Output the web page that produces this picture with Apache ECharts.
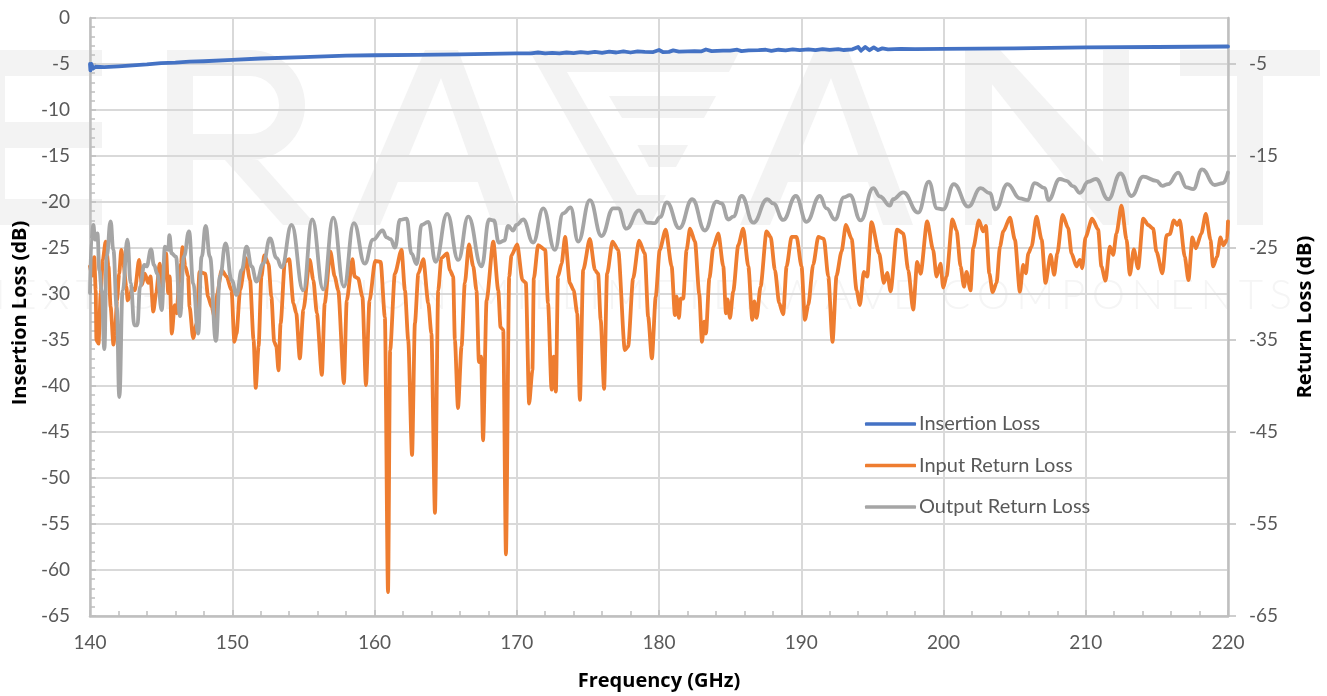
<!DOCTYPE html>
<html><head><meta charset="utf-8">
<style>html,body{margin:0;padding:0;background:#fff}#c{width:1327px;height:696px}</style>
<script src="https://cdn.jsdelivr.net/npm/echarts@6/dist/echarts.min.js"></script>
</head><body><div id="c"></div>
<script>
const insertionLoss=[[140,-5.0],[140.03,-5.7],[140.1,-5.0],[140.2,-5.5],[140.4,-5.3],[141,-5.35],[142,-5.25],[143,-5.15],[144,-5.05],[145,-4.9],[146,-4.85],[147,-4.75],[148,-4.7],[150,-4.55],[152,-4.4],[155,-4.25],[158,-4.1],[160,-4.05],[163,-4.0],[166,-3.95],[168,-3.9],[170,-3.85],[171,-3.85],[171.5,-3.75],[172,-3.85],[172.5,-3.78],[173,-3.85],[173.5,-3.75],[174,-3.82],[174.5,-3.72],[175,-3.8],[175.5,-3.68],[176,-3.78],[176.5,-3.66],[177,-3.75],[177.5,-3.62],[178,-3.75],[178.5,-3.62],[179,-3.68],[179.6,-3.7],[180,-3.48],[180.3,-3.72],[180.7,-3.68],[181,-3.52],[181.4,-3.65],[182,-3.62],[182.5,-3.6],[183,-3.62],[183.3,-3.42],[183.7,-3.6],[184.5,-3.55],[185,-3.55],[185.5,-3.45],[185.8,-3.6],[186.3,-3.52],[187,-3.5],[187.5,-3.45],[187.9,-3.58],[188.4,-3.45],[188.9,-3.52],[189.4,-3.42],[189.9,-3.5],[190.5,-3.42],[191,-3.5],[191.5,-3.38],[192,-3.47],[192.6,-3.38],[193,-3.48],[193.6,-3.4],[194,-3.15],[194.2,-3.55],[194.5,-3.15],[194.8,-3.5],[195.1,-3.2],[195.4,-3.48],[195.7,-3.3],[196.1,-3.42],[197,-3.35],[198,-3.38],[200,-3.35],[205,-3.3],[210,-3.2],[215,-3.15],[220,-3.1]];
const inputReturnLoss=[[140,-27],[140.15,-28],[140.3,-26],[140.4,-29.6],[140.45,-35],[140.6,-35.4],[140.75,-30],[140.9,-26.3],[141.1,-24.3],[141.3,-27],[141.45,-31.4],[141.65,-35.5],[141.75,-34.3],[141.9,-30.7],[142.05,-27.8],[142.2,-25.2],[142.35,-26.7],[142.55,-29.2],[142.65,-30.7],[142.8,-30.3],[142.95,-29.4],[143.15,-29.6],[143.45,-26.3],[143.65,-29],[143.85,-27.8],[144.1,-28.8],[144.25,-28.1],[144.45,-31.9],[144.65,-29.9],[144.9,-26.7],[145.1,-29.2],[145.35,-25.6],[145.5,-29.9],[145.6,-28.1],[145.75,-34.3],[145.95,-31.2],[146.1,-32.1],[146.25,-28.8],[146.4,-26.7],[146.5,-24.9],[146.7,-27],[146.9,-28.1],[147,-31.4],[147.25,-34.8],[147.5,-33.2],[147.7,-27.6],[148.1,-27.8],[148.3,-30.3],[148.55,-31.4],[148.8,-32.8],[148.95,-29.9],[149.25,-27.4],[149.6,-28.1],[149.95,-29.6],[150.15,-35.2],[150.3,-34.3],[150.55,-29.6],[150.95,-26.1],[151.25,-28.5],[151.5,-35],[151.65,-40.2],[151.85,-35.7],[152.05,-28.1],[152.25,-25.8],[152.55,-26.7],[152.75,-30.3],[152.95,-35.2],[153.1,-35.7],[153.25,-38.3],[153.4,-33.2],[153.7,-26.5],[154,-26.2],[154.3,-31],[154.5,-32.1],[154.75,-37],[155,-31.7],[155.45,-26.3],[155.7,-28.5],[155.95,-32.1],[156.3,-38.8],[156.5,-31],[156.9,-25.4],[157.2,-28.1],[157.45,-29.6],[157.85,-39.7],[158.05,-30.7],[158.45,-26.2],[158.6,-28.1],[158.85,-28.3],[159.15,-30.3],[159.4,-39.9],[159.65,-30.7],[160.05,-26.4],[160.43,-26.5],[160.73,-32.5],[160.95,-62.4],[161.1,-36.1],[161.43,-27.8],[161.9,-25.2],[162.14,-29.6],[162.37,-35],[162.64,-47.5],[162.84,-33.2],[163.08,-27.8],[163.43,-26.2],[163.78,-31],[164,-34.3],[164.25,-53.8],[164.48,-29.6],[164.7,-26.1],[165.1,-25.6],[165.3,-27.4],[165.53,-28.1],[165.65,-35],[165.87,-42.4],[166.12,-35.7],[166.35,-28.8],[166.64,-24.6],[166.94,-27],[167.17,-29.6],[167.34,-37.4],[167.5,-36.8],[167.63,-45.9],[167.88,-30.7],[168.35,-24.3],[168.7,-29.6],[168.86,-33.6],[169.05,-33.9],[169.24,-58.3],[169.47,-28.1],[169.63,-25.8],[170.03,-24.6],[170.4,-28.5],[170.64,-28.8],[170.87,-41.9],[171.1,-38.3],[171.2,-28.3],[171.5,-24.7],[172,-25.2],[172.2,-31],[172.45,-40.4],[172.6,-36.8],[172.75,-40.6],[172.9,-28.1],[173.15,-26.7],[173.4,-23.8],[173.73,-28.8],[174,-29.6],[174.25,-32.1],[174.44,-41.5],[174.67,-27.4],[175.14,-24],[175.5,-27.4],[175.72,-27.8],[175.9,-32.8],[176.14,-40.3],[176.35,-27.8],[176.73,-24.3],[177.13,-25.2],[177.6,-36.1],[177.83,-35.7],[178.18,-28.3],[178.6,-24.2],[179,-25.6],[179.24,-32.5],[179.5,-37],[179.77,-30.3],[180.05,-25.2],[180.47,-23],[180.89,-27],[181.12,-32.3],[181.24,-30.3],[181.4,-32.6],[181.52,-30.5],[181.7,-30.5],[181.94,-25.2],[182.18,-22.9],[182.53,-24.3],[182.83,-30],[183.02,-35.2],[183.18,-33],[183.3,-34.3],[183.54,-28.3],[183.82,-24.9],[184.17,-23.4],[184.52,-27],[184.71,-32.1],[184.82,-30.6],[184.99,-32.6],[185.22,-29.7],[185.57,-24.7],[185.92,-22.9],[186.28,-27],[186.56,-32.8],[186.7,-30.8],[186.86,-32.6],[187.14,-29.2],[187.56,-23.2],[187.85,-23.8],[188.15,-27.4],[188.45,-31],[188.73,-32.2],[188.97,-27],[189.32,-23.8],[189.67,-23.8],[190.02,-27],[190.26,-32.8],[190.49,-31.2],[190.84,-26.8],[191.2,-23.8],[191.59,-24],[191.9,-28.1],[192.2,-35.2],[192.48,-28],[192.83,-25.4],[193.14,-22.5],[193.54,-24],[193.89,-29.6],[194.12,-31.2],[194.4,-27.6],[194.64,-28.1],[194.94,-22.2],[195.48,-25.6],[195.81,-28.8],[196.04,-27.7],[196.28,-29.7],[196.74,-23],[197.17,-23.4],[197.52,-27.4],[197.87,-31.7],[198.15,-26.5],[198.39,-27.8],[198.85,-22.1],[199.27,-25.2],[199.51,-28.1],[199.79,-26.7],[199.98,-29.3],[200.21,-28.1],[200.63,-21.9],[200.92,-23.1],[201.2,-27],[201.44,-29.2],[201.62,-27.6],[201.9,-29.6],[202.09,-25],[202.49,-22],[202.79,-23.2],[202.98,-22.6],[203.22,-27.75],[203.45,-29.8],[203.73,-28.8],[203.97,-24.85],[204.2,-23.2],[204.67,-21.7],[205.02,-24.1],[205.37,-29.75],[205.6,-26.85],[205.79,-27.75],[205.96,-25.6],[206.19,-24.85],[206.54,-21.6],[206.9,-24.1],[207.17,-28.8],[207.53,-25.75],[207.78,-27.9],[208,-25.6],[208.37,-21.4],[208.77,-22.85],[209,-25.6],[209.35,-27],[209.59,-26.3],[209.75,-27.2],[209.98,-23.85],[210.45,-21.8],[210.87,-23],[211.1,-27],[211.39,-28.55],[211.69,-24.85],[211.93,-25.75],[212.16,-23.4],[212.51,-20.4],[212.87,-24.1],[213.1,-27.9],[213.38,-25.15],[213.68,-27.2],[214.04,-21.8],[214.39,-22.5],[214.74,-22.9],[214.97,-25.4],[215.39,-27.75],[215.68,-23.6],[215.91,-23.5],[216.19,-22],[216.43,-22.5],[216.61,-22],[216.96,-25.95],[217.22,-28.5],[217.5,-23.85],[217.74,-25.05],[218.13,-23.4],[218.44,-21.3],[218.77,-24.1],[218.95,-27],[219.23,-25.95],[219.47,-23.85],[219.66,-24.7],[219.94,-24.1],[220,-22.1]];
const outputReturnLoss=[[140,-29.9],[140.1,-24.1],[140.24,-22.5],[140.35,-24.1],[140.52,-23.4],[140.66,-27.4],[140.82,-29.6],[141.01,-36],[141.17,-25.9],[141.45,-22.1],[141.64,-25.2],[141.88,-31.4],[142.06,-41.2],[142.3,-29.6],[142.63,-24.1],[142.86,-28.8],[143.12,-33.4],[143.33,-33.4],[143.52,-29.2],[143.82,-26.85],[143.98,-27],[144.29,-25.15],[144.5,-26.85],[144.73,-27.8],[145.04,-31.75],[145.27,-24.85],[145.5,-25.2],[145.58,-23.6],[145.74,-25.6],[146.04,-25.95],[146.33,-32.4],[146.6,-25.95],[146.96,-23.2],[147.26,-28.85],[147.6,-34.3],[147.85,-25.95],[148.13,-22.6],[148.43,-25.95],[148.85,-35.1],[149.14,-28.1],[149.53,-24.5],[149.96,-28.5],[150.31,-30.1],[150.66,-27.4],[151.01,-24.85],[151.36,-27],[151.71,-28.65],[152.18,-26.7],[152.65,-23.95],[153.12,-26.1],[153.47,-27.1],[154.17,-22.5],[154.99,-29.6],[155.62,-21.9],[156.4,-29.5],[157.1,-21.7],[157.85,-29.2],[158.55,-22.3],[159.32,-26.7],[159.9,-24.1],[160.57,-23.1],[160.85,-23.85],[161.13,-24.05],[161.44,-24.95],[161.79,-21.95],[162.26,-21.8],[162.6,-25.6],[162.96,-26.75],[163.31,-22.5],[163.78,-22.15],[164.29,-26.5],[165.11,-21.3],[165.89,-26.3],[166.59,-21.6],[167.53,-27],[168.06,-21.9],[168.39,-22],[168.74,-24.4],[169.12,-24.2],[169.4,-22.6],[169.75,-23.1],[169.98,-22.5],[170.45,-21.9],[171.15,-24.4],[171.86,-20.7],[172.68,-25.2],[173.26,-21.25],[173.78,-20.6],[174.32,-24.3],[175.14,-19.8],[175.96,-23.7],[176.78,-20.7],[177.13,-20.7],[177.71,-22.9],[178.6,-20.9],[179.16,-22.25],[179.7,-22.3],[180.07,-21.65],[180.55,-20.05],[181.43,-22.85],[182.34,-19.7],[183.23,-23.1],[184.05,-19.95],[184.4,-20.15],[184.87,-21.9],[185.22,-21.6],[185.81,-19.35],[186.63,-22.25],[187.61,-19.7],[188.03,-20.15],[188.73,-21.95],[189.62,-19.35],[190.37,-22.15],[191.31,-19.35],[191.78,-20.7],[192.37,-21.9],[193,-19.5],[193.42,-19.25],[194.17,-22],[195.06,-18.5],[195.53,-19.4],[196.23,-20.4],[196.46,-19.7],[197.17,-18.95],[198.22,-21.15],[198.97,-17.8],[199.55,-20.7],[199.98,-20.8],[200.73,-18.05],[201.74,-20.5],[202.61,-18.5],[203.26,-19.05],[203.66,-20.8],[204.5,-18.05],[205.37,-19.6],[205.89,-19.8],[206.42,-17.95],[207.13,-18.5],[207.36,-19.8],[208.18,-17.5],[208.65,-17.7],[209.12,-18.3],[209.59,-19],[210.17,-17.8],[210.71,-17.5],[211.58,-19.7],[212.44,-16.9],[213.22,-19.35],[214.04,-17.25],[214.97,-17.7],[215.39,-18.25],[215.79,-18.05],[216.5,-16.8],[217.08,-18.4],[217.55,-18.6],[218.18,-16.45],[219.07,-18.15],[219.66,-17.95],[220,-16.8]];
const rightTicks=[-65,-55,-45,-35,-25,-15,-5];
const seriesNames=['Insertion Loss','Input Return Loss','Output Return Loss'];
const watermarkText='NEXT GENERATION MILLIMETERWAVE COMPONENTS';
const WM='#F3F3F3',FONT='Lato',TXT='#595959';
const poly=p=>({type:'polygon',z:-10,shape:{points:p},style:{fill:WM},silent:true});
const rect=(x,y,w,h)=>({type:'rect',z:-10,shape:{x,y,width:w,height:h},style:{fill:WM},silent:true});
const letterA=d=>[poly([[425+d,50],[458+d,50],[523+d,225],[493+d,225],[441+d,78],[380+d,225],[350+d,225]]),poly([[393+d,157],[483+d,157],[492+d,182],[384+d,182]])];
const wmFont='300 42px Lato';
const ctx=document.createElement('canvas').getContext('2d');ctx.font=wmFont;
const chars=[...watermarkText],widths=chars.map(c=>ctx.measureText(c).width);
const wmStart=-26,wmEnd=1292,wmGap=(wmEnd-wmStart-widths.reduce((a,b)=>a+b,0))/(chars.length-1);
let wmX=wmStart;
const subtitle=chars.map((c,i)=>{const e={type:'text',z:-10,silent:true,x:wmX,y:274,style:{text:c,font:wmFont,fill:'#F5F5F5'}};wmX+=widths[i]+wmGap;return e;});
const art=[
 rect(0,50,102,26),rect(0,122,102,26),rect(0,199,102,26),rect(0,50,5,175),
 rect(167,50,26,175),rect(167,50,83,26),rect(167,134,83,26),
 {type:'sector',z:-10,shape:{cx:250,cy:105,r:55,r0:29,startAngle:-Math.PI/2,endAngle:Math.PI/2},style:{fill:WM},silent:true},
 poly([[225,160],[258,160],[316,225],[283,225]]),
 ...letterA(0),
 poly([[529,50],[740,50],[729,72],[567,72],[637,195],[666,195],[650,225],[627,225]]),
 poly([[609,96],[716,96],[704,118],[622,118]]),poly([[637.5,145],[688,145],[676,167],[649,167]]),
 ...letterA(390),
 rect(965,50,27,175),rect(1103,50,26,175),poly([[965,50],[1000,50],[1129,190],[1129,225],[1103,225]]),
 rect(1180,50,140,26),rect(1237,50,26,175),
 ...subtitle
];
const chart=echarts.init(document.getElementById('c'),null,{renderer:'canvas'});
const axisName={color:'#000',fontFamily:'Open Sans',fontWeight:'bold',fontSize:20};
const mk=(i,d,c,s)=>({name:seriesNames[i],type:'line',data:d,showSymbol:false,smooth:s,smoothMonotone:'x',lineStyle:{color:c,width:3.8,cap:'round',join:'round'},itemStyle:{color:c},z:3+i});
chart.setOption({
 animation:false,backgroundColor:'#fff',
 graphic:{elements:art},
 grid:{left:90,right:99,top:18,bottom:80,containLabel:false,outerBoundsMode:'none'},
 legend:{orient:'vertical',left:860,top:409,itemWidth:51,itemHeight:3.5,itemGap:21.5,icon:'roundRect',selectedMode:false,textStyle:{color:TXT,fontFamily:FONT,fontSize:20,padding:[0,0,0,-2]},data:seriesNames},
 xAxis:{type:'value',min:140,max:220,interval:10,name:'Frequency (GHz)',nameLocation:'middle',nameGap:55,nameTextStyle:axisName,
  axisLine:{onZero:false,lineStyle:{color:'#BFBFBF',width:2.5}},axisTick:{inside:true,length:6,lineStyle:{color:'#BFBFBF',width:1.5}},minorTick:{show:true,splitNumber:5,length:5,lineStyle:{color:'#BFBFBF',width:1.5}},
  splitLine:{show:true,lineStyle:{color:'#D9D9D9',width:2}},axisLabel:{color:TXT,fontFamily:FONT,fontSize:19,margin:17}},
 yAxis:[
  {type:'value',min:-65,max:0,interval:5,name:'Insertion Loss (dB)',nameLocation:'middle',nameGap:60,nameTextStyle:Object.assign({padding:[0,0,0,8]},axisName),
   axisLine:{show:true,onZero:false,lineStyle:{color:'#BFBFBF',width:2.5}},axisTick:{show:true,inside:true,length:6,lineStyle:{color:'#BFBFBF',width:1.5}},minorTick:{show:true,splitNumber:5,length:5,lineStyle:{color:'#BFBFBF',width:1.5}},
   splitLine:{show:true,lineStyle:{color:'#D9D9D9',width:2}},axisLabel:{color:TXT,fontFamily:FONT,fontSize:19,margin:20}},
  {type:'value',position:'right',min:-65,max:0,interval:5,name:'Return Loss (dB)',nameLocation:'middle',nameGap:67,nameRotate:90,nameTextStyle:axisName,
   axisLine:{show:true,onZero:false,lineStyle:{color:'#BFBFBF',width:2.5}},axisTick:{show:true,length:8,customValues:rightTicks,lineStyle:{color:'#BFBFBF',width:1.5}},
   splitLine:{show:false},axisLabel:{color:TXT,fontFamily:FONT,fontSize:19,margin:21,customValues:rightTicks}}
 ],
 series:[mk(0,insertionLoss,'#4472C4',false),mk(1,inputReturnLoss,'#EE7D30',0.25),mk(2,outputReturnLoss,'#A5A5A5',0.45)]
});
</script></body></html>
